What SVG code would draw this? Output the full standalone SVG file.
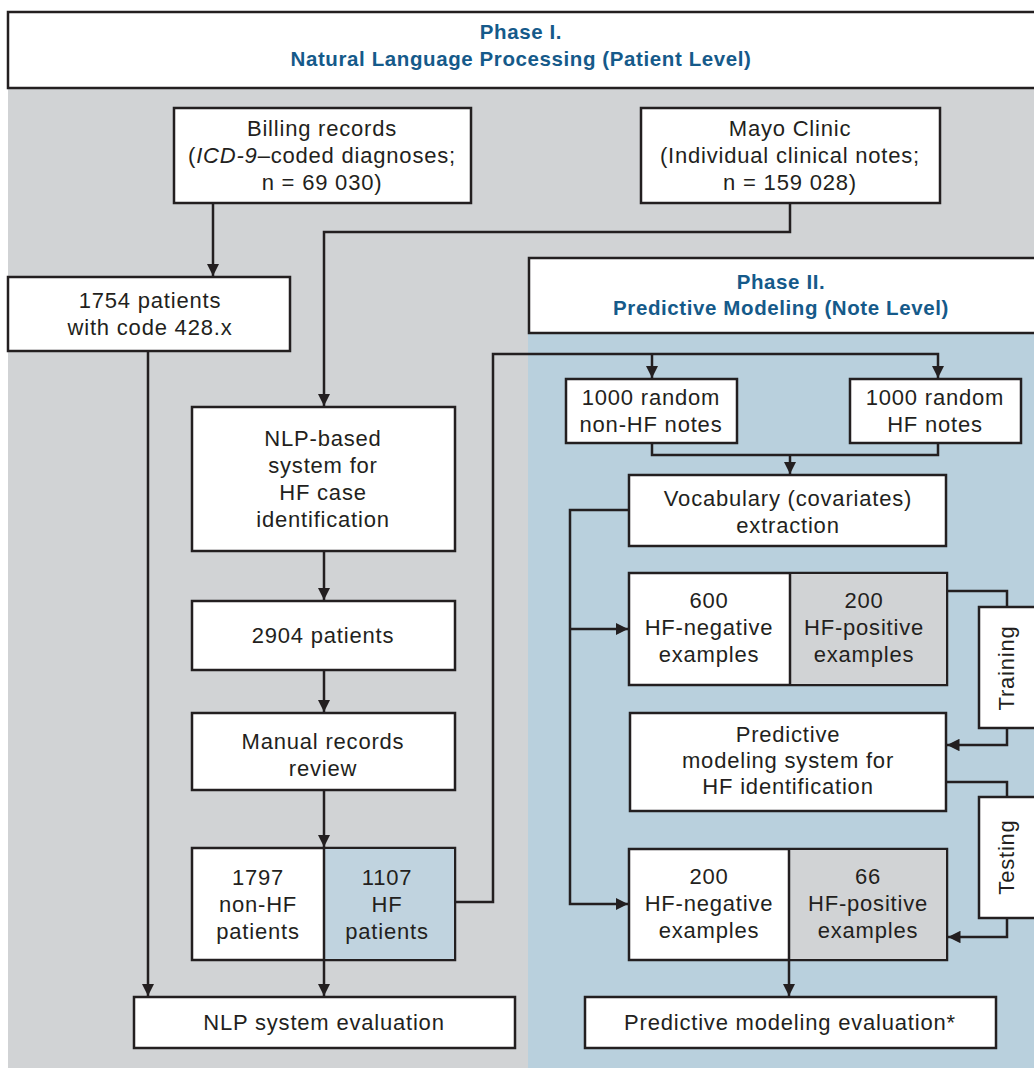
<svg xmlns="http://www.w3.org/2000/svg" width="1034" height="1068" viewBox="0 0 1034 1068">
<style>
.b{fill:#fff;stroke:#231f20;stroke-width:2.5}
.t{font-family:"Liberation Sans",Arial,sans-serif;font-size:22px;letter-spacing:0.8px;fill:#231f20;text-anchor:middle}
.h{font-family:"Liberation Sans",Arial,sans-serif;font-size:20.5px;letter-spacing:0.6px;font-weight:bold;fill:#155a8a;text-anchor:middle}
.c{fill:none;stroke:#231f20;stroke-width:2.5}
</style>
<defs>
<marker id="a" viewBox="0 0 10 10" refX="10" refY="5" markerWidth="5" markerHeight="5" orient="auto" markerUnits="strokeWidth">
<path d="M0,0 L10,5 L0,10 z" fill="#231f20"/>
</marker>
</defs>
<rect x="0" y="0" width="1034" height="1068" fill="#fff"/>
<rect x="8" y="88" width="1026" height="980" fill="#d1d3d5"/>
<rect x="528" y="333" width="506" height="735" fill="#b9d0dd"/>

<g id="phase1">
<rect class="b" x="8" y="12" width="1030" height="76"/>
<text class="h" x="521" y="39">Phase I.</text>
<text class="h" x="521" y="66">Natural Language Processing (Patient Level)</text>
</g>
<g id="phase2">
<rect class="b" x="529" y="258" width="510" height="75"/>
<text class="h" x="781" y="289">Phase II.</text>
<text class="h" x="781" y="315">Predictive Modeling (Note Level)</text>
</g>

<g id="connectors">
<path class="c" d="M213,203 V276" marker-end="url(#a)"/>
<path class="c" d="M790,203 V232 H324 V406" marker-end="url(#a)"/>
<path class="c" d="M148,351 V996" marker-end="url(#a)"/>
<path class="c" d="M324,551 V600" marker-end="url(#a)"/>
<path class="c" d="M324,670 V712" marker-end="url(#a)"/>
<path class="c" d="M324,790 V847" marker-end="url(#a)"/>
<path class="c" d="M324,960 V996" marker-end="url(#a)"/>
<path class="c" d="M455,902 H493 V354 H938 V378" marker-end="url(#a)"/>
<path class="c" d="M652,354 V378" marker-end="url(#a)"/>
<path class="c" d="M652,443 V455 H938 V443"/>
<path class="c" d="M790,455 V474" marker-end="url(#a)"/>
<path class="c" d="M629,510 H570 V904 H628" marker-end="url(#a)"/>
<path class="c" d="M570,629 H628" marker-end="url(#a)"/>
<path class="c" d="M947,591 H1007 V607"/>
<path class="c" d="M1007,728 V745 H947" marker-end="url(#a)"/>
<path class="c" d="M946,782 H1007 V797"/>
<path class="c" d="M1007,918 V937 H948" marker-end="url(#a)"/>
<path class="c" d="M789,960 V996" marker-end="url(#a)"/>
</g>

<g id="billing">
<rect class="b" x="174" y="108" width="297" height="95"/>
<text class="t" x="322" y="136">Billing records</text>
<text class="t" x="322" y="163">(<tspan font-style="italic">ICD-9</tspan>–coded diagnoses;</text>
<text class="t" x="322" y="190">n = 69 030)</text>
</g>
<g id="mayo">
<rect class="b" x="641" y="108" width="299" height="95"/>
<text class="t" x="790" y="136">Mayo Clinic</text>
<text class="t" x="790" y="163">(Individual clinical notes;</text>
<text class="t" x="790" y="190">n = 159 028)</text>
</g>
<g id="p1754">
<rect class="b" x="8" y="277" width="282" height="74"/>
<text class="t" x="150" y="308">1754 patients</text>
<text class="t" x="150" y="335">with code 428.x</text>
</g>
<g id="nlp">
<rect class="b" x="192" y="407" width="263" height="144"/>
<text class="t" x="323" y="446">NLP-based</text>
<text class="t" x="323" y="473">system for</text>
<text class="t" x="323" y="500">HF case</text>
<text class="t" x="323" y="527">identification</text>
</g>
<g id="p2904">
<rect class="b" x="192" y="601" width="263" height="69"/>
<text class="t" x="323" y="643">2904 patients</text>
</g>
<g id="manual">
<rect class="b" x="192" y="713" width="263" height="77"/>
<text class="t" x="323" y="749">Manual records</text>
<text class="t" x="323" y="776">review</text>
</g>
<g id="split1">
<rect class="b" x="192" y="848" width="263" height="112"/>
<rect x="325" y="849" width="129" height="110" fill="#c0d3df"/>
<line class="c" x1="324" y1="848" x2="324" y2="960"/>
<text class="t" x="258" y="885">1797</text>
<text class="t" x="258" y="912">non-HF</text>
<text class="t" x="258" y="939">patients</text>
<text class="t" x="387" y="885">1107</text>
<text class="t" x="387" y="912">HF</text>
<text class="t" x="387" y="939">patients</text>
</g>
<g id="nlpeval">
<rect class="b" x="134" y="997" width="381" height="51"/>
<text class="t" x="324" y="1030">NLP system evaluation</text>
</g>
<g id="nonhf">
<rect class="b" x="566" y="379" width="171" height="64"/>
<text class="t" x="651" y="405">1000 random</text>
<text class="t" x="651" y="432">non-HF notes</text>
</g>
<g id="hf">
<rect class="b" x="850" y="379" width="171" height="64"/>
<text class="t" x="935" y="405">1000 random</text>
<text class="t" x="935" y="432">HF notes</text>
</g>
<g id="vocab">
<rect class="b" x="629" y="475" width="317" height="71"/>
<text class="t" x="788" y="506">Vocabulary (covariates)</text>
<text class="t" x="788" y="533">extraction</text>
</g>
<g id="train">
<rect class="b" x="629" y="573" width="318" height="112"/>
<rect x="791" y="574" width="155" height="110" fill="#d1d3d5"/>
<line class="c" x1="790" y1="573" x2="790" y2="685"/>
<text class="t" x="709" y="608">600</text>
<text class="t" x="709" y="635">HF-negative</text>
<text class="t" x="709" y="662">examples</text>
<text class="t" x="864" y="608">200</text>
<text class="t" x="864" y="635">HF-positive</text>
<text class="t" x="864" y="662">examples</text>
</g>
<g id="training">
<rect class="b" x="979" y="607" width="60" height="121"/>
<text class="t" transform="translate(1014,668) rotate(-90)">Training</text>
</g>
<g id="pms">
<rect class="b" x="630" y="713" width="316" height="98"/>
<text class="t" x="788" y="742">Predictive</text>
<text class="t" x="788" y="768">modeling system for</text>
<text class="t" x="788" y="794">HF identification</text>
</g>
<g id="testing">
<rect class="b" x="979" y="797" width="60" height="121"/>
<text class="t" transform="translate(1014,857) rotate(-90)">Testing</text>
</g>
<g id="test">
<rect class="b" x="629" y="849" width="318" height="111"/>
<rect x="790" y="850" width="156" height="109" fill="#d1d3d5"/>
<line class="c" x1="789" y1="849" x2="789" y2="960"/>
<text class="t" x="709" y="884">200</text>
<text class="t" x="709" y="911">HF-negative</text>
<text class="t" x="709" y="938">examples</text>
<text class="t" x="868" y="884">66</text>
<text class="t" x="868" y="911">HF-positive</text>
<text class="t" x="868" y="938">examples</text>
</g>
<g id="pmeval">
<rect class="b" x="585" y="997" width="411" height="51"/>
<text class="t" x="790" y="1030">Predictive modeling evaluation*</text>
</g>
</svg>
